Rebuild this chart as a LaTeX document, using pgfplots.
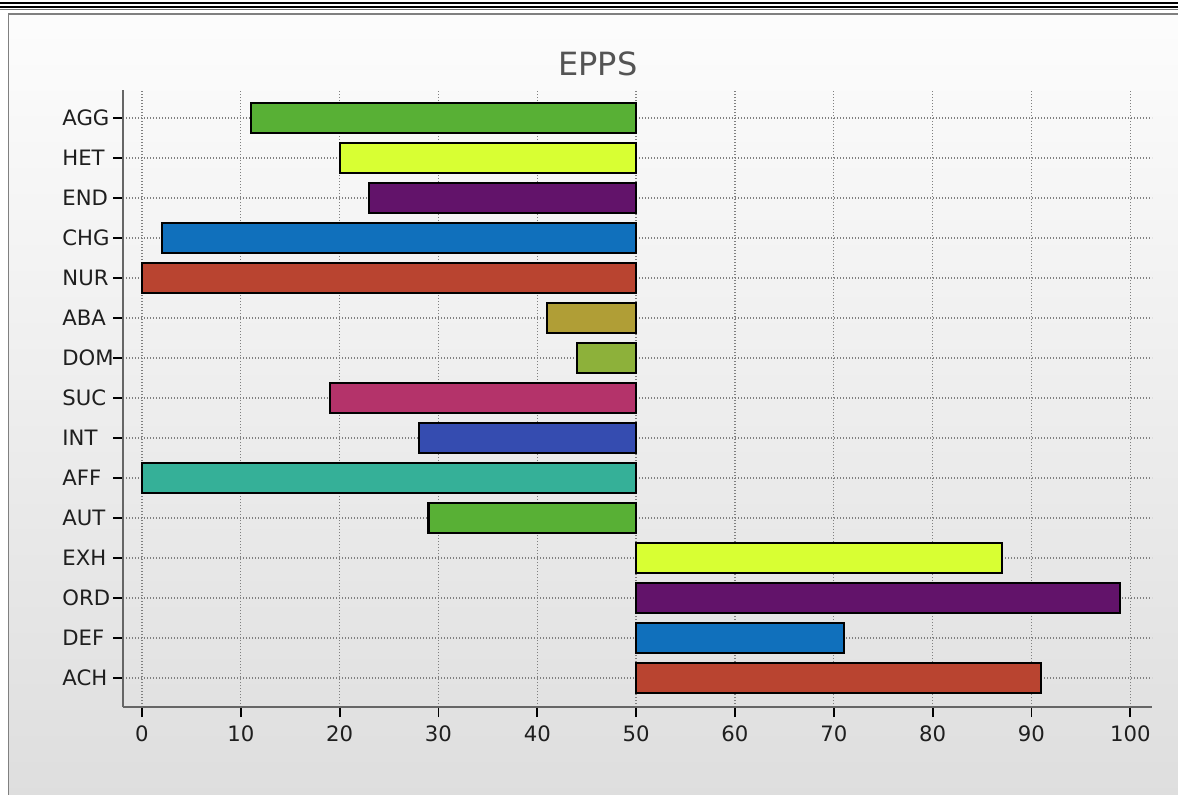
\documentclass[border=0pt]{standalone}
\usepackage{fontspec}
\setmainfont{DejaVu Sans}
\usepackage{pgfplots}
\pgfplotsset{compat=1.18}

\definecolor{cred}{HTML}{B94430}
\definecolor{cblue}{HTML}{1070BC}
\definecolor{cpurple}{HTML}{62136A}
\definecolor{cyellow}{HTML}{D8FF33}
\definecolor{cgreen}{HTML}{58B035}
\definecolor{cteal}{HTML}{35B098}
\definecolor{cindigo}{HTML}{354CB0}
\definecolor{cpink}{HTML}{B4336A}
\definecolor{clime}{HTML}{8DB13A}
\definecolor{colive}{HTML}{B09E36}
\definecolor{gridc}{HTML}{808080}
\definecolor{axisc}{HTML}{666666}

\begin{document}
\begin{tikzpicture}
\path[use as bounding box] (0,0) rectangle (589pt,397pt);
% frame and background
\shade[top color=white!99!black, bottom color=black!13] (4.25pt,-5pt) rectangle (600pt,390pt);
\draw[black!50, line width=0.75pt] (4.25pt,-5pt) -- (4.25pt,390pt) -- (600pt,390pt);
\draw[black, line width=0.9pt] (0,395.6pt) -- (589pt,395.6pt);
\draw[black, line width=0.9pt] (0,393.3pt) -- (589pt,393.3pt);
\draw[black!55, line width=0.7pt] (0,392.1pt) -- (589pt,392.1pt);
\node[text=black!67, font=\fontsize{16}{19}\selectfont] at (299pt,365pt) {EPPS};

\begin{axis}[
  at={(61.5pt,43.5pt)}, anchor=south west,
  scale only axis, width=514.5pt, height=308.5pt,
  xbar, bar width=15pt, bar shift=0pt,
  x filter/.expression={x-50},
  xmin=-51.92, xmax=52.2,
  ymin=-0.725, ymax=14.7,
  axis x line*=bottom, axis y line*=left,
  axis line style={axisc, line width=0.75pt, -},
  xtick={-50,-40,-30,-20,-10,0,10,20,30,40,50},
  xticklabels={0,10,20,30,40,50,60,70,80,90,100},
  ytick={0,1,2,3,4,5,6,7,8,9,10,11,12,13,14},
  yticklabels={ACH,DEF,ORD,EXH,AUT,AFF,INT,SUC,DOM,ABA,NUR,CHG,END,HET,AGG},
  tick align=outside, major tick length=5pt,
  xtick style={black, line width=0.9pt},
  ytick style={black, line width=0.7pt},
  xmajorgrids, ymajorgrids,
  major grid style={gridc, line width=0.65pt, dash pattern=on 0.6pt off 0.9pt},
  ticklabel style={font=\fontsize{10.6}{13}\selectfont, text=black!88},
  yticklabel style={anchor=east, inner sep=0pt, text width=24.5pt, align=left, xshift=-0.6pt},
  xticklabel style={inner sep=0pt, yshift=-4pt},
  /pgf/number format/assume math mode=true,
  every axis plot/.append style={draw=black, line width=1.1pt},
  clip=false,
]
\addplot[fill=cred]    coordinates {(91,0)};
\addplot[fill=cblue]   coordinates {(71,1)};
\addplot[fill=cpurple] coordinates {(99,2)};
\addplot[fill=cyellow] coordinates {(87,3)};
\addplot[fill=cgreen]  coordinates {(29,4)};
\addplot[fill=cteal]   coordinates {(0,5)};
\addplot[fill=cindigo] coordinates {(28,6)};
\addplot[fill=cpink]   coordinates {(19,7)};
\addplot[fill=clime]   coordinates {(44,8)};
\addplot[fill=colive]  coordinates {(41,9)};
\addplot[fill=cred]    coordinates {(0,10)};
\addplot[fill=cblue]   coordinates {(2,11)};
\addplot[fill=cpurple] coordinates {(23,12)};
\addplot[fill=cyellow] coordinates {(20,13)};
\addplot[fill=cgreen]  coordinates {(11,14)};
\end{axis}
\end{tikzpicture}
\end{document}
